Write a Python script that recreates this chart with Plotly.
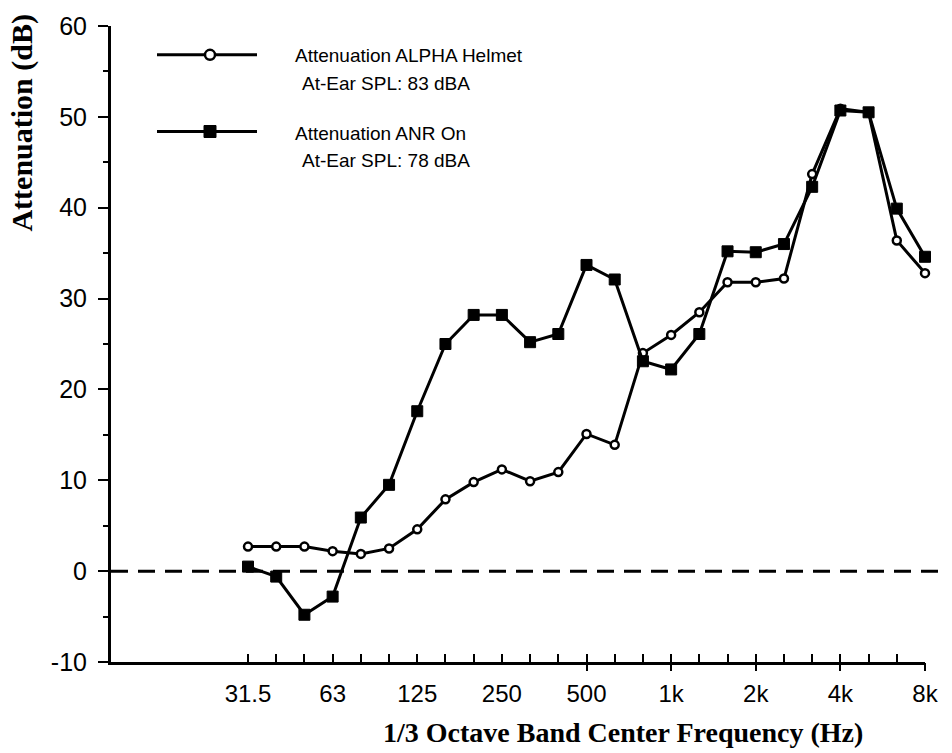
import plotly.graph_objects as go

# 1/3 octave band centre frequencies
bands = ["31.5", "40", "50", "63", "80", "100", "125", "160", "200", "250", "315", "400",
         "500", "630", "800", "1k", "1.25k", "1.6k", "2k", "2.5k", "3.15k", "4k", "5k", "6.3k", "8k"]
labelled = ["31.5", "63", "125", "250", "500", "1k", "2k", "4k", "8k"]
major = ["500", "1k", "2k", "4k", "8k"]

# Attenuation (dB)
helmet = [2.7, 2.7, 2.7, 2.2, 1.9, 2.5, 4.6, 7.9, 9.8, 11.2, 9.9, 10.9,
          15.1, 13.9, 24.0, 26.0, 28.5, 31.8, 31.8, 32.2, 43.7, 50.9, 50.5, 36.4, 32.8]
anr = [0.5, -0.6, -4.8, -2.8, 5.9, 9.5, 17.6, 25.0, 28.2, 28.2, 25.2, 26.1,
       33.7, 32.1, 23.1, 22.2, 26.1, 35.2, 35.1, 36.0, 42.3, 50.7, 50.5, 39.9, 34.6]

y_ticks = [-10, 0, 10, 20, 30, 40, 50, 60]
y_ticktext = ["-10", "0", "10", "20", "30", "40", "50", "60"]

legend_names = ["Attenuation ALPHA Helmet", "Attenuation ANR On"]
legend_sub = ["At-Ear SPL: 83 dBA", "At-Ear SPL: 78 dBA"]
x_title = "1/3 Octave Band Center Frequency (Hz)"
y_title = "Attenuation (dB)"

idx = list(range(len(bands)))
SANS = "Liberation Sans, Arial, sans-serif"
SERIF = "Liberation Serif, Times New Roman, serif"

fig = go.Figure()
fig.add_trace(go.Scatter(
    x=idx, y=helmet, mode="lines+markers", name=legend_names[0],
    line=dict(color="black", width=3),
    marker=dict(symbol="circle", size=8, color="white", line=dict(color="black", width=2.5)),
    cliponaxis=False, showlegend=False))
fig.add_trace(go.Scatter(
    x=idx, y=anr, mode="lines+markers", name=legend_names[1],
    line=dict(color="black", width=3),
    marker=dict(symbol="square", size=11, color="black", line=dict(color="black", width=1)),
    cliponaxis=False, showlegend=False))

x_range = [-4.857, 24.0]

fig.update_layout(
    width=952, height=753,
    margin=dict(l=111, r=27, t=23, b=91),
    paper_bgcolor="white", plot_bgcolor="white",
    font=dict(family=SANS, color="black"),
    xaxis=dict(
        range=x_range, showgrid=False, zeroline=False,
        showline=True, linecolor="black", linewidth=3,
        tickmode="array", tickvals=idx,
        ticktext=[b if b in labelled else "" for b in bands],
        ticks="inside", ticklen=8, tickwidth=2, tickcolor="black",
        tickfont=dict(family=SANS, size=24, color="black"),
        ticklabelstandoff=8,
    ),
    xaxis2=dict(
        overlaying="x", matches="x", side="bottom", anchor="y",
        range=x_range, showgrid=False, zeroline=False, showline=False,
        tickmode="array", tickvals=[bands.index(b) for b in major],
        ticktext=["" for _ in major],
        ticks="outside", ticklen=8, tickwidth=2, tickcolor="black",
    ),
    yaxis=dict(
        range=[-10, 60], showgrid=False, zeroline=False,
        showline=True, linecolor="black", linewidth=3,
        tickmode="array", tickvals=y_ticks, ticktext=y_ticktext,
        ticks="outside", ticklen=10, tickwidth=2, tickcolor="black",
        minor=dict(tickmode="linear", tick0=-10, dtick=5, ticks="outside", ticklen=5,
                   tickwidth=2, tickcolor="black"),
        tickfont=dict(family=SANS, size=25, color="black"),
        ticklabelstandoff=6,
    ),
)

# invisible trace to activate xaxis2 ticks
fig.add_trace(go.Scatter(x=[idx[0]], y=[helmet[0]], xaxis="x2", mode="markers",
                         marker=dict(opacity=0), showlegend=False, hoverinfo="skip"))

# zero reference line (dashed)
fig.add_shape(type="line", xref="paper", yref="y", x0=0, x1=1.028, y0=0, y1=0,
              line=dict(color="black", width=3, dash="17px,10px"), layer="below")


def px_x(p):
    return (p - 111) / 814.0


def px_y(p):
    return (662 - p) / 639.0


# axis titles (positioned as in the original figure)
fig.add_annotation(xref="paper", yref="paper", x=px_x(623), y=px_y(733), text=x_title,
                   showarrow=False, xanchor="center", yanchor="middle",
                   font=dict(family=SERIF, size=28, color="black", weight="bold"))
fig.add_annotation(xref="paper", yref="paper", x=px_x(22), y=px_y(120), text=y_title,
                   showarrow=False, xanchor="center", yanchor="middle", textangle=-90,
                   font=dict(family=SERIF, size=30, color="black", weight="bold"))

# manual legend
leg_rows = [52, 129]
text_rows = [(53, 81), (131, 158)]
for i in range(2):
    yy = px_y(leg_rows[i])
    fig.add_shape(type="line", xref="paper", yref="paper", x0=px_x(157), x1=px_x(257),
                  y0=yy, y1=yy, line=dict(color="black", width=3))
    if i == 0:
        fig.add_shape(type="circle", xref="paper", yref="paper",
                      xsizemode="pixel", ysizemode="pixel",
                      xanchor=px_x(210), yanchor=yy, x0=-5, x1=5, y0=-5, y1=5,
                      fillcolor="white", line=dict(color="black", width=2.5))
    else:
        fig.add_shape(type="rect", xref="paper", yref="paper",
                      xsizemode="pixel", ysizemode="pixel",
                      xanchor=px_x(210), yanchor=yy, x0=-6, x1=6, y0=-6, y1=6,
                      fillcolor="black", line=dict(color="black", width=1))
    fig.add_annotation(xref="paper", yref="paper", x=px_x(293), y=px_y(text_rows[i][0]),
                       text=legend_names[i], showarrow=False, xanchor="left", yanchor="middle",
                       font=dict(family=SANS, size=19, color="black"))
    fig.add_annotation(xref="paper", yref="paper", x=px_x(300), y=px_y(text_rows[i][1]),
                       text=legend_sub[i], showarrow=False, xanchor="left", yanchor="middle",
                       font=dict(family=SANS, size=19, color="black"))

fig.write_html("out.html")
